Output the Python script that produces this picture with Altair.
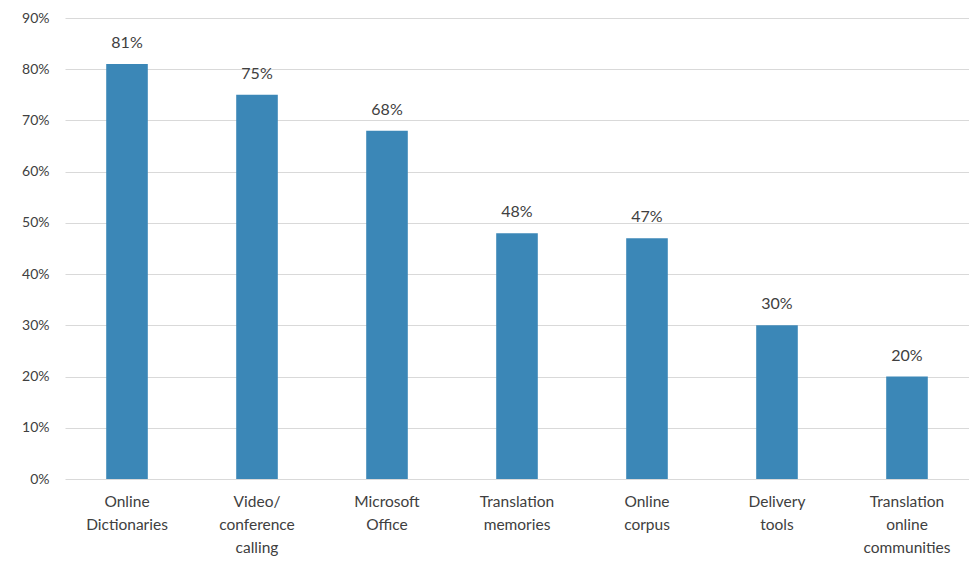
import altair as alt
import pandas as pd

categories = ["Online|Dictionaries", "Video/|conference|calling", "Microsoft|Office",
              "Translation|memories", "Online|corpus", "Delivery|tools",
              "Translation|online|communities"]
values = [0.81, 0.75, 0.68, 0.48, 0.47, 0.30, 0.20]
y_ticks = [0, 0.1, 0.2, 0.3, 0.4, 0.5, 0.6, 0.7, 0.8, 0.9]

df = pd.DataFrame({"cat": categories, "val": values})

FONT = "Lato"
TXT = "#404040"

base = alt.Chart(df).encode(
    x=alt.X("cat:N", sort=None, title=None,
            scale=alt.Scale(paddingInner=0.68, paddingOuter=0.317),
            axis=alt.Axis(labelExpr="split(datum.label, '|')", labelAngle=0,
                          labelFont=FONT, labelFontSize=15.5, labelColor=TXT,
                          labelLineHeight=23, labelPadding=15, ticks=False,
                          domain=False, labelBaseline="top")),
    y=alt.Y("val:Q", title=None,
            scale=alt.Scale(domain=[0, 0.9], nice=False),
            axis=alt.Axis(values=y_ticks, format=".0%", labelFont=FONT,
                          labelFontSize=14, labelColor=TXT, labelPadding=16,
                          ticks=False, domain=False, grid=True,
                          gridColor="#d9d9d9", gridWidth=1)),
)

bars = base.mark_bar(color="#3b87b7")
labels = base.mark_text(font=FONT, fontSize=16, color=TXT, baseline="bottom", dy=-13).encode(
    text=alt.Text("val:Q", format=".0%"))

chart = (bars + labels).properties(
    width=904, height=461,
    autosize=alt.AutoSizeParams(type="none"),
    padding={"left": 57, "top": 10, "right": 0, "bottom": 80},
).configure(background="white").configure_view(stroke=None, strokeWidth=0)

chart.save("out.html", embed_options={"renderer": "svg", "actions": False})
